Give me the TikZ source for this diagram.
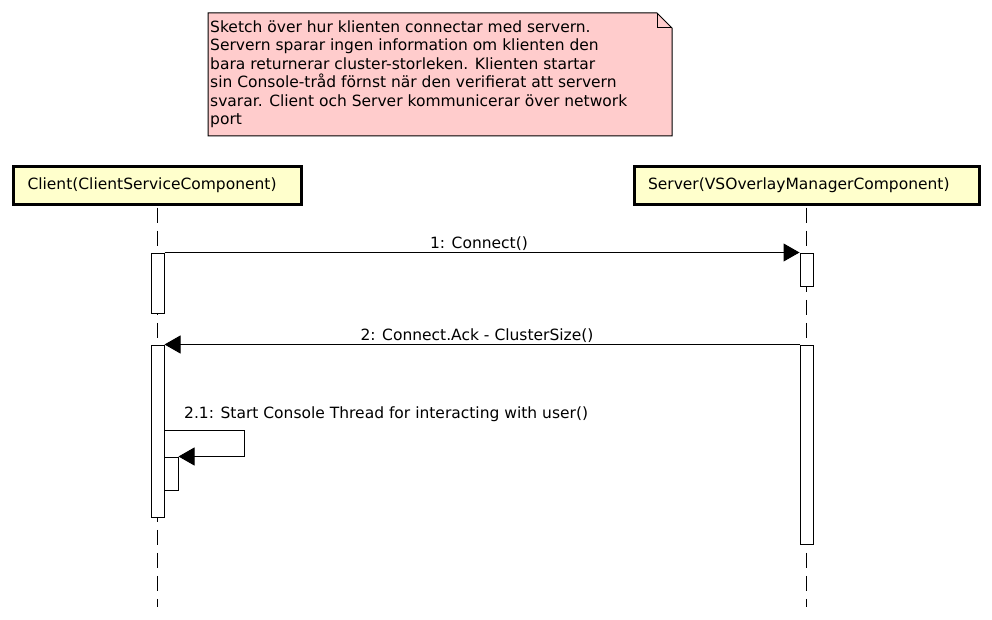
\documentclass[tikz,border=0pt]{standalone}
\usepackage{fontspec}
\setmainfont{DejaVu Sans}
\usetikzlibrary{arrows.meta}
\definecolor{partfill}{HTML}{FFFFCC}
\definecolor{notefill}{HTML}{FFCCCC}
\begin{document}
\begin{tikzpicture}[x=1pt,y=-1pt,
  every node/.style={font=\fontsize{15.5}{18.4}\selectfont},
  part/.style={draw, line width=3pt, fill=partfill, inner xsep=14pt, inner ysep=0pt, align=left},
  bar/.style={draw, line width=1pt, fill=white, minimum width=13pt, inner sep=0pt},
  msg/.style={line width=1pt, -{Triangle[length=16pt,width=18pt]}},
  life/.style={line width=1pt, dash pattern=on 15pt off 8pt},
  lbl/.style={anchor=base, inner sep=0pt}]
\useasboundingbox[fill=white] (0,0) rectangle (992,620);
% note
\draw[line width=1pt, fill=notefill] (208,13) -- (657,13) -- (672,28) -- (672,136) -- (208,136) -- cycle;
\draw[line width=1pt] (657,13) -- (657,28) -- (672,28);
\node[anchor=north west, inner sep=0pt, align=left] (notetext) at (210,20.6)
  {Sketch över hur klienten connectar med servern.\\
   Servern sparar ingen information om klienten den\\
   bara returnerar cluster-storleken. Klienten startar\\
   sin Console-tråd förnst när den verifierat att servern\\
   svarar. Client och Server kommunicerar över network\\
   port};
% participants
\node[part, minimum height=38.5pt, text width=260pt] (client) at (157.5,185.5) {Client(ClientServiceComponent)};
\node[part, minimum height=38.5pt, text width=317pt] (server) at (806.5,185.5) {Server(VSOverlayManagerComponent)};
% lifelines
\coordinate (cend) at (157.5,607);
\coordinate (send) at (806.5,607);
\draw[life] ([yshift=-1.5pt]client.south) -- (cend);
\draw[life] ([yshift=-1.5pt]server.south) -- (send);
% activation bars
\node[bar, minimum height=60pt] (cb1) at (157.5,283) {};
\node[bar, minimum height=33pt] (sb1) at (806.5,269.5) {};
\node[bar, minimum height=172pt] (cb2) at (157.5,431) {};
\node[bar, minimum height=199pt] (sb2) at (806.5,444.5) {};
\node[bar, minimum width=14pt, minimum height=33pt] (nb) at (171,473.5) {};
% messages
\draw[msg] (cb1.north east) -- (sb1.north west)
  node[lbl, midway, yshift=4pt, xshift=-3pt] (m1) {1: Connect()};
\draw[msg] (sb2.north west) -- (cb2.north east)
  node[lbl, midway, yshift=4pt, xshift=-5pt] (m2) {2: Connect.Ack - ClusterSize()};
\coordinate (loopa) at (244,430);
\draw[msg] (cb2.east |- loopa) -- (loopa) |- (nb.north east);
\node[anchor=base west, inner sep=0pt] (m3) at (184,418.5) {2.1: Start Console Thread for interacting with user()};
\end{tikzpicture}
\end{document}
